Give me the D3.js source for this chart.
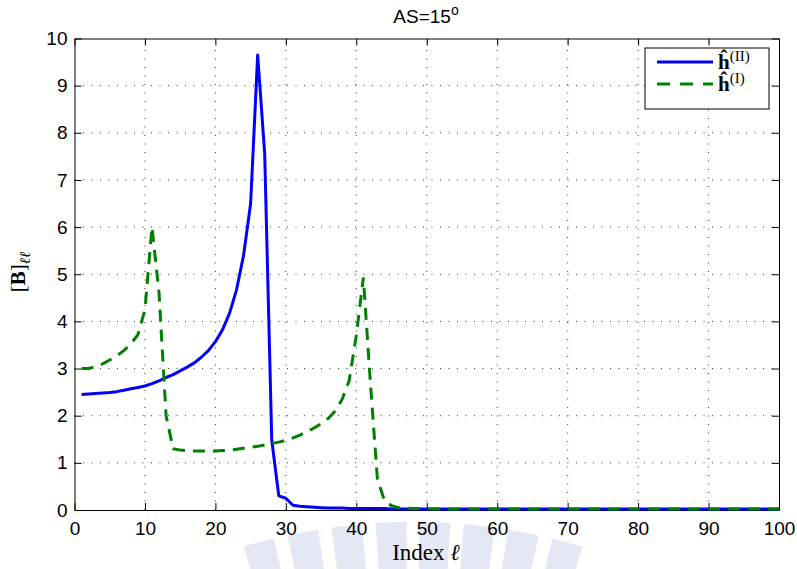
<!DOCTYPE html>
<html>
<head>
<meta charset="utf-8">
<script src="https://cdn.jsdelivr.net/npm/d3@7"></script>
<style>
  body { margin: 0; background: #fff; }
  svg { display: block; }
</style>
</head>
<body>
<svg id="chart"></svg>
<script>
// index l = 1..100
const indexes = d3.range(1, 101)

// h^(II), solid blue
const hII = [
  2.45, 2.46, 2.47, 2.48, 2.49, 2.51, 2.54, 2.57, 2.60, 2.63,
  2.68, 2.74, 2.81, 2.87, 2.95, 3.03, 3.12, 3.24, 3.38, 3.57,
  3.82, 4.17, 4.67, 5.40, 6.50, 9.65, 7.55, 1.48, 0.30, 0.25,
  0.10, 0.08, 0.07, 0.06, 0.05, 0.04, 0.04, 0.04, 0.03, 0.03,
  0.03, 0.03, 0.03, 0.03, 0.02, 0.02, 0.02, 0.02, 0.02, 0.02,
  0.02, 0.02, 0.02, 0.02, 0.02, 0.02, 0.02, 0.02, 0.02, 0.02,
  0.02, 0.02, 0.02, 0.02, 0.02, 0.02, 0.02, 0.02, 0.02, 0.02,
  0.02, 0.02, 0.02, 0.02, 0.02, 0.02, 0.02, 0.02, 0.02, 0.02,
  0.02, 0.02, 0.02, 0.02, 0.02, 0.02, 0.02, 0.02, 0.02, 0.02,
  0.02, 0.02, 0.02, 0.02, 0.02, 0.02, 0.02, 0.02, 0.02, 0.02
]

// h^(I), dashed green
const hI = [
  3.00, 3.00, 3.04, 3.10, 3.18, 3.27, 3.38, 3.52, 3.72, 4.25,
  6.00, 4.60, 2.00, 1.30, 1.27, 1.26, 1.25, 1.25, 1.25, 1.25,
  1.26, 1.27, 1.29, 1.31, 1.33, 1.35, 1.38, 1.41, 1.44, 1.48,
  1.53, 1.59, 1.66, 1.74, 1.83, 1.94, 2.10, 2.35, 2.75, 3.70,
  4.93, 2.70, 0.65, 0.20, 0.09, 0.05, 0.04, 0.03, 0.03, 0.03,
  0.02, 0.02, 0.02, 0.02, 0.02, 0.02, 0.02, 0.02, 0.02, 0.02,
  0.02, 0.02, 0.02, 0.02, 0.02, 0.02, 0.02, 0.02, 0.02, 0.02,
  0.02, 0.02, 0.02, 0.02, 0.02, 0.02, 0.02, 0.02, 0.02, 0.02,
  0.02, 0.02, 0.02, 0.02, 0.02, 0.02, 0.02, 0.02, 0.02, 0.02,
  0.02, 0.02, 0.02, 0.02, 0.02, 0.02, 0.02, 0.02, 0.02, 0.02
]

const xTicks = [0, 10, 20, 30, 40, 50, 60, 70, 80, 90, 100]
const yTicks = [0, 1, 2, 3, 4, 5, 6, 7, 8, 9, 10]

// faint watermark stripes (angles in radians)
const markAngles = [-0.263, -0.187, -0.112, -0.037, 0.037, 0.112, 0.187, 0.263]

const W = 797, H = 569
const plotL = 74.5, plotR = 779, plotT = 38.5, plotB = 510

const svg = d3.select('#chart').attr('width', W).attr('height', H)

// watermark behind everything
svg.append('g')
    .attr('transform', 'translate(413,1116)')
    .selectAll('path')
    .data(markAngles)
    .join('path')
        .attr('d', a => d3.arc()({innerRadius: 520, outerRadius: 594,
                                   startAngle: a - 0.026, endAngle: a + 0.026}))
        .attr('fill', '#e3e8f4')

const x = d3.scaleLinear().domain([0, 100]).range([plotL, plotR])
const y = d3.scaleLinear().domain([0, 10]).range([plotB, plotT])

// dotted grid
const grid = svg.append('g')
    .attr('stroke', '#222')
    .attr('stroke-width', 0.9)
    .attr('stroke-dasharray', '1,7.5')
grid.selectAll('.gx').data(xTicks.slice(1, -1)).join('line')
    .attr('class', 'gx')
    .attr('x1', d => x(d)).attr('x2', d => x(d))
    .attr('y1', plotB).attr('y2', plotT)
grid.selectAll('.gy').data(yTicks.slice(1, -1)).join('line')
    .attr('class', 'gy')
    .attr('x1', plotL).attr('x2', plotR)
    .attr('y1', d => y(d)).attr('y2', d => y(d))

// axes with inward ticks, MATLAB box style
const tickFont = g => g.selectAll('text')
    .attr('font-family', 'Liberation Sans, Arial, sans-serif')
    .attr('font-size', 19).attr('fill', '#000')

svg.append('g').attr('transform', `translate(0,${plotB})`)
    .call(d3.axisBottom(x).tickValues(xTicks).tickSize(-7).tickPadding(12).tickSizeOuter(0))
    .call(tickFont)
svg.append('g').attr('transform', `translate(${plotL},0)`)
    .call(d3.axisLeft(y).tickValues(yTicks).tickSize(-7).tickPadding(7).tickSizeOuter(0))
    .call(tickFont)
svg.append('g').attr('transform', `translate(0,${plotT})`)
    .call(d3.axisTop(x).tickValues(xTicks).tickSize(-7).tickFormat('').tickSizeOuter(0))
svg.append('g').attr('transform', `translate(${plotR},0)`)
    .call(d3.axisRight(y).tickValues(yTicks).tickSize(-7).tickFormat('').tickSizeOuter(0))
svg.selectAll('.domain').attr('stroke', '#000').attr('stroke-width', 1)
svg.selectAll('.tick line').attr('stroke', '#000')

// series
const line = d3.line().x((d, i) => x(indexes[i])).y(d => y(d))

svg.append('path')
    .datum(hII)
    .attr('d', line)
    .attr('fill', 'none')
    .attr('stroke', '#0000ff')
    .attr('stroke-width', 3)
    .attr('stroke-linejoin', 'round')

svg.append('path')
    .datum(hI)
    .attr('d', line)
    .attr('fill', 'none')
    .attr('stroke', '#008000')
    .attr('stroke-width', 3)
    .attr('stroke-dasharray', '12,8')

// title
const title = svg.append('text')
    .attr('x', 426).attr('y', 22.5)
    .attr('text-anchor', 'middle')
    .attr('font-family', 'Liberation Sans, Arial, sans-serif')
    .attr('font-size', 19)
title.append('tspan').text('AS=15')
title.append('tspan').attr('dy', -8).attr('font-size', 14).text('o')

// x label
const xl = svg.append('text')
    .attr('x', 426).attr('y', 560)
    .attr('text-anchor', 'middle')
    .attr('font-family', 'Liberation Serif, DejaVu Serif, serif')
    .attr('font-size', 23)
xl.append('tspan').text('Index ')
xl.append('tspan').attr('font-style', 'italic').text('ℓ')

// y label
const yl = svg.append('text')
    .attr('transform', 'translate(25,272) rotate(-90)')
    .attr('text-anchor', 'middle')
    .attr('font-family', 'Liberation Serif, DejaVu Serif, serif')
    .attr('font-size', 21)
yl.append('tspan').text('[')
yl.append('tspan').attr('font-weight', 'bold').text('B')
yl.append('tspan').text(']')
yl.append('tspan').attr('dy', 5).attr('font-size', 15).attr('font-style', 'italic').text('ℓℓ')

// legend
const legend = svg.append('g')
legend.append('rect')
    .attr('x', 645).attr('y', 48).attr('width', 124).attr('height', 61)
    .attr('fill', '#fff').attr('stroke', '#000').attr('stroke-width', 1)

const legendItems = [
  {label: 'II', color: '#0000ff', dash: null, yy: 62},
  {label: 'I', color: '#008000', dash: '13,10', yy: 84}
]
legendItems.forEach(it => {
  legend.append('line')
      .attr('x1', 657).attr('x2', 713)
      .attr('y1', it.yy).attr('y2', it.yy)
      .attr('stroke', it.color).attr('stroke-width', 3)
      .attr('stroke-dasharray', it.dash)
  const t = legend.append('text')
      .attr('x', 718).attr('y', it.yy + 7)
      .attr('font-family', 'Liberation Serif, DejaVu Serif, serif')
      .attr('font-size', 21)
  t.append('tspan').attr('font-weight', 'bold').text('h\u0302')
  t.append('tspan').attr('dy', -8).attr('font-size', 15).text(`(${it.label})`)
})
</script>
</body>
</html>
